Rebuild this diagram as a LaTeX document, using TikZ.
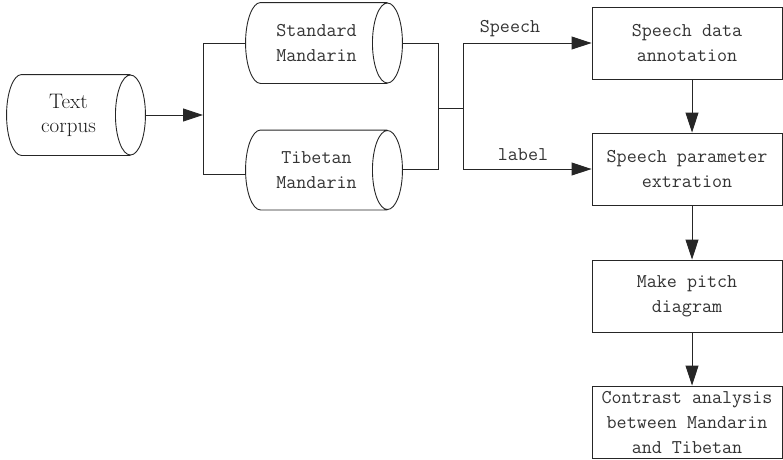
\documentclass[tikz,border=0pt]{standalone}
\usetikzlibrary{arrows.meta,calc}
\newcommand\cylshape[2]{% node name, y radius
  \draw ($(#1.north west)+(15,0)$) -- (#1.north east)
    ($(#1.south west)+(15,0)$) -- (#1.south east)
    (#1.east) ellipse [x radius=15pt, y radius=#2pt]
    ($(#1.north west)+(15,0)$) .. controls ($(#1.north west)+(6.7,0)$) and ($(#1.west)+(0,-0.5523*#2)$) .. (#1.west)
    .. controls ($(#1.west)+(0,0.5523*#2)$) and ($(#1.south west)+(6.7,0)$) .. ($(#1.south west)+(15,0)$);
  \coordinate (#1-r) at ($(#1.east)+(15,0)$);}
\begin{document}
\begin{tikzpicture}[x=1pt,y=-1pt,
  line width=0.9pt, draw=black!85,
  mono/.style={font=\ttfamily\fontsize{19.5}{25}\selectfont, text=black!80},
  cyl/.style={rectangle, inner sep=0pt, align=center, mono},
  stepbox/.style={draw, rectangle, minimum width=190pt, minimum height=72pt, inner sep=0pt, align=center, mono},
  arr/.style={-{Triangle[length=20pt,width=13pt]}},
  lab/.style={mono, inner sep=0pt}]
\useasboundingbox (0,0) rectangle (783,459);
\node[cyl, minimum width=123pt, minimum height=80pt, font=\rmfamily\fontsize{21}{24}\selectfont, text=black!90] (tc) at (68.5,115) {Text\\corpus};
\node[cyl, minimum width=141pt, minimum height=80pt] (sm) at (316.5,43) {Standard\\Mandarin};
\node[cyl, minimum width=141pt, minimum height=79pt] (tm) at (316.5,170) {Tibetan\\Mandarin};
\cylshape{tc}{40}
\cylshape{sm}{40}
\cylshape{tm}{39.5}
\node[stepbox] (b1) at (687,43) {Speech data\\annotation};
\node[stepbox] (b2) at (687,169) {Speech parameter\\extration};
\node[stepbox] (b3) at (687,296) {Make pitch\\diagram};
\node[stepbox] (b4) at (687,422) {Contrast analysis\\between Mandarin\\and Tibetan};
\coordinate (lx) at (203,0);
\coordinate (rx) at (438,0);
\coordinate (mx) at (463,0);
\coordinate (ax) at (692,0);
\coordinate (tl) at ($(tm.west)+(0,4)$);
\coordinate (tr) at ($(tm-r)+(0,-1)$);
\draw[arr] (tc-r) -- (tc-r -| lx);
\draw (sm.west) -- (sm.west -| lx) -- (tl -| lx) -- (tl);
\draw (sm-r) -- (sm-r -| rx) -- (tr -| rx) -- (tr);
\draw (rx |- 0,108) -- (mx |- 0,108);
\draw[arr] (b1.west -| mx) -- (b1.west);
\draw (b1.west -| mx) -- (b2.west -| mx);
\draw[arr] (b2.west -| mx) -- (b2.west);
\draw[arr] (b1.south -| ax) -- (b2.north -| ax);
\draw[arr] (b2.south -| ax) -- (b3.north -| ax);
\draw[arr] (b3.south -| ax) -- (b4.north -| ax);
\node[lab] (ls) at (510,29) {Speech};
\node[lab] (ll) at (523,155) {label};
\end{tikzpicture}
\end{document}
